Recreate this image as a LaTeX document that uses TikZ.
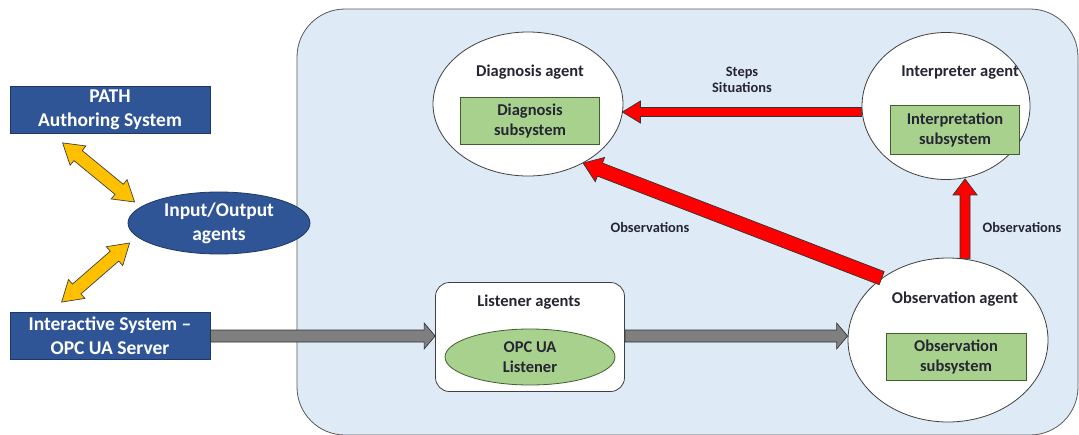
\documentclass[tikz,border=0pt]{standalone}
\usepackage{fontspec}
\setmainfont{Carlito}
\usetikzlibrary{shapes.geometric,calc}

\definecolor{panel}{HTML}{DEEBF7}
\definecolor{paneledge}{HTML}{595959}
\definecolor{navy}{HTML}{2F5597}
\definecolor{navyedge}{HTML}{1F3864}
\definecolor{leaf}{HTML}{A9D18E}
\definecolor{leafedge}{HTML}{3F5F2E}
\definecolor{amber}{HTML}{FFC000}
\definecolor{ink}{HTML}{262633}
\definecolor{steel}{HTML}{7F7F7F}
\definecolor{alarm}{HTML}{FF0000}

% block arrow: start, end, half shaft, half head, head length, fill
\newcommand\blockarrow[6]{%
  \path[draw=black!80, fill=#6, line width=0.7pt, line join=miter]
    let \p1=(#1), \p2=(#2), \n1={atan2(\y2-\y1,\x2-\x1)}, \n2={veclen(\x2-\x1,\y2-\y1)} in
    [shift={(\p1)}, rotate=\n1]
    (0pt,-#3) -- ({\n2-#5},-#3) -- ({\n2-#5},-#4) -- (\n2,0pt)
    -- ({\n2-#5},#4) -- ({\n2-#5},#3) -- (0pt,#3) -- cycle;}
% double-headed block arrow
\newcommand\twinarrow[6]{%
  \path[draw=black!75, fill=#6, line width=0.7pt, line join=miter]
    let \p1=(#1), \p2=(#2), \n1={atan2(\y2-\y1,\x2-\x1)}, \n2={veclen(\x2-\x1,\y2-\y1)} in
    [shift={(\p1)}, rotate=\n1]
    (0pt,0pt) -- (#5,-#4) -- (#5,-#3) -- ({\n2-#5},-#3) -- ({\n2-#5},-#4) -- (\n2,0pt)
    -- ({\n2-#5},#4) -- ({\n2-#5},#3) -- (#5,#3) -- (#5,#4) -- cycle;}

\tikzset{
  bigtext/.style={font=\bfseries\fontsize{19.5}{24}\selectfont},
  midtext/.style={font=\bfseries\fontsize{16.5}{20.5}\selectfont, text=ink},
  smalltext/.style={font=\bfseries\fontsize{14.4}{16.5}\selectfont, text=ink},
  system/.style={draw=navyedge, fill=navy, line width=0.8pt, text=white, bigtext,
    align=center, minimum width=200, minimum height=47, inner sep=0pt},
  agent/.style={ellipse, draw=black!75, fill=white, line width=0.8pt, inner sep=0pt},
  subsys/.style={draw=leafedge, fill=leaf, line width=0.8pt, midtext, align=center,
    inner sep=0pt},
}

\begin{document}
\begin{tikzpicture}[x=1pt, y=-1pt]
\useasboundingbox (0,0) rectangle (1079,434);
\fill[white] (0,0) rectangle (1079,434);

% agent platform
\node[draw=paneledge, fill=panel, line width=0.8pt, rounded corners=48pt,
  minimum width=781, minimum height=426, inner sep=0pt] (core) at (687.5,222) {};

% external systems
\node[system] (path) at (110,110) {PATH\\Authoring System};
\node[system] (inter) at (110,336) {Interactive System --\\OPC UA Server};
\node[ellipse, draw=navyedge, fill=navy, line width=0.8pt, inner sep=0pt,
  minimum width=182, minimum height=62, text=white, bigtext, align=center]
  (io) at (219,223) {Input/Output\\agents};

% agents
\node[agent, minimum width=190, minimum height=144] (diag) at (528,104) {};
\node[midtext] (diagT) at (530,72) {Diagnosis agent};
\node[subsys, minimum width=139, minimum height=47] (diagS) at (530,121) {Diagnosis\\subsystem};

\node[agent, minimum width=168, minimum height=147] (interp) at (946,106) {};
\node[midtext] (interpT) at (960,73) {Interpreter agent};
\node[subsys, minimum width=129, minimum height=49] (interpS) at (955,130) {Interpretation\\subsystem};

\node[agent, minimum width=200, minimum height=164] (obs) at (948,340) {};
\node[midtext] (obsT) at (955,299) {Observation agent};
\node[subsys, minimum width=140, minimum height=47] (obsS) at (956,357) {Observation\\subsystem};

\node[draw=black!75, fill=white, line width=0.8pt, rounded corners=14pt,
  minimum width=189, minimum height=109, inner sep=0pt] (listen) at (530,337) {};
\node[midtext] (listenT) at (529,302) {Listener agents};
\node[ellipse, draw=leafedge, fill=leaf, line width=0.8pt, inner sep=0pt,
  minimum width=170, minimum height=56, midtext, align=center] (opc) at (530,357) {OPC UA\\Listener};

% message labels
\node[smalltext, align=center] (steps) at (742,80) {Steps\\Situations};
\node[smalltext] (obsL1) at (650,227) {Observations};
\node[smalltext] (obsL2) at (1022,227) {Observations};

% data flow
\coordinate (ioUp) at ($(io.west)+(7,-21)$);
\coordinate (pathFoot) at ($(path.south west)+(53,9)$);
\coordinate (ioDown) at ($(io.west)+(2,20)$);
\coordinate (interHead) at ($(inter.north west)+(52,-10)$);
\twinarrow{pathFoot}{ioUp}{6.5pt}{12.5pt}{20pt}{amber}
\twinarrow{ioDown}{interHead}{6.5pt}{12.5pt}{20pt}{amber}

\blockarrow{inter.east}{listen.west |- inter.east}{6pt}{13pt}{11pt}{steel}
\blockarrow{listen.east |- inter.east}{obs.west |- inter.east}{6pt}{13pt}{11pt}{steel}

\coordinate (interOut) at ($(interp.west)+(0,6)$);
\coordinate (diagIn) at ($(diag.east)+(-1,8)$);
\blockarrow{interOut}{diagIn}{4.5pt}{11pt}{18pt}{alarm}
\blockarrow{obs.137}{diag.-47}{7pt}{13pt}{18pt}{alarm}
\coordinate (obsTop) at ($(obs.north)+(17,1)$);
\coordinate (interFoot) at ($(interp.south)+(19,-1)$);
\blockarrow{obsTop}{interFoot}{5pt}{12pt}{16pt}{alarm}
\end{tikzpicture}
\end{document}
